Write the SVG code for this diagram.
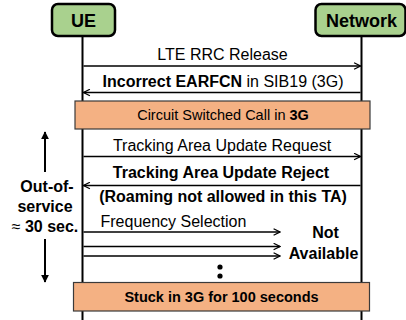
<svg xmlns="http://www.w3.org/2000/svg" width="406" height="320" viewBox="0 0 406 320">
  <style>
    text { font-family: "Liberation Sans", Arial, sans-serif; fill: #000; }
    .msg { font-size: 16px; text-anchor: middle; }
    .b { font-weight: bold; }
    .n { font-weight: normal; }
    .entity { fill: #a9d18e; stroke: #000; stroke-width: 2.5; }
    .entity-label { font-size: 18px; font-weight: bold; text-anchor: middle; }
    .lifeline { stroke: #000; stroke-width: 2; }
    .phase { fill: #f4b183; stroke: #3a3a3a; stroke-width: 1.2; }
    .phase-label { font-size: 14.5px; text-anchor: middle; }
    .arrow { stroke: #000; stroke-width: 1.5; fill: none; }
    .timer { stroke: #000; stroke-width: 2; }
  </style>
  <defs>
    <marker id="open" viewBox="0 0 10 10" refX="9" refY="5" markerWidth="8" markerHeight="8" markerUnits="userSpaceOnUse" orient="auto">
      <path d="M1,1 L9,5 L1,9" fill="none" stroke="#000" stroke-width="1.6"/>
    </marker>
    <marker id="solid" viewBox="0 0 10 10" refX="9" refY="5" markerWidth="8" markerHeight="9" markerUnits="userSpaceOnUse" orient="auto">
      <path d="M0,0 L10,5 L0,10 Z" fill="#000"/>
    </marker>
  </defs>

  <!-- lifelines -->
  <g id="lifelines">
    <line class="lifeline" x1="82.5" y1="36" x2="82.5" y2="320"/>
    <line class="lifeline" x1="361.5" y1="36" x2="361.5" y2="320"/>
  </g>

  <!-- entities -->
  <g id="ue">
    <rect class="entity" x="52" y="4" width="63" height="32" rx="6"/>
    <text class="entity-label" x="83.5" y="26.5">UE</text>
  </g>
  <g id="network">
    <rect class="entity" x="315.5" y="4" width="90" height="32" rx="6"/>
    <text class="entity-label" x="361.5" y="26.5">Network</text>
  </g>

  <!-- messages -->
  <g id="connectors">
    <line class="arrow" x1="83.5" y1="66" x2="360.5" y2="66" marker-end="url(#open)"/>
    <line class="arrow" x1="360.5" y1="92.5" x2="83.5" y2="92.5" marker-end="url(#open)"/>
    <line class="arrow" x1="83.5" y1="156.5" x2="360.5" y2="156.5" marker-end="url(#open)"/>
    <line class="arrow" x1="360.5" y1="185.5" x2="83.5" y2="185.5" marker-end="url(#open)"/>
    <line class="arrow" x1="83.5" y1="232" x2="280" y2="232" marker-end="url(#open)"/>
    <line class="arrow" x1="83.5" y1="246.5" x2="280" y2="246.5" marker-end="url(#open)"/>
    <line class="arrow" x1="83.5" y1="256" x2="280" y2="256" marker-end="url(#open)"/>
  </g>

  <g id="msg-labels">
    <text class="msg" x="222.5" y="60">LTE RRC Release</text>
    <text class="msg" x="223" y="87"><tspan class="b">Incorrect EARFCN</tspan> in SIB19 (3G)</text>
    <text class="msg" x="222" y="150.5">Tracking Area Update Request</text>
    <text class="msg b" x="221" y="178">Tracking Area Update Reject</text>
    <text class="msg b" x="223" y="202">(Roaming not allowed in this TA)</text>
    <text class="msg" x="100.5" y="227" style="text-anchor:start">Frequency Selection</text>
    <text class="msg b" x="325.5" y="238">Not</text>
    <text class="msg b" x="323.5" y="258.5">Available</text>
  </g>

  <!-- continuation dots -->
  <g id="ellipsis">
    <circle cx="220" cy="267" r="2.6"/>
    <circle cx="220" cy="276" r="2.6"/>
  </g>

  <!-- phases -->
  <g id="cs-call">
    <rect class="phase" x="75" y="101" width="295" height="28"/>
    <text class="phase-label" x="223" y="120">Circuit Switched Call in <tspan class="b">3G</tspan></text>
  </g>
  <g id="stuck">
    <rect class="phase" x="73.5" y="282.5" width="296" height="28.5"/>
    <text class="phase-label b" x="221.5" y="302">Stuck in 3G for 100 seconds</text>
  </g>

  <!-- out-of-service timer -->
  <g id="out-of-service">
    <line class="timer" x1="45" y1="172" x2="45" y2="132" marker-end="url(#solid)"/>
    <line class="timer" x1="45" y1="239" x2="45" y2="282" marker-end="url(#solid)"/>
    <text class="msg b" x="47" y="192">Out-of-</text>
    <text class="msg b" x="45" y="212">service</text>
    <text class="msg b" x="45" y="232"><tspan class="n">≈</tspan> 30 sec.</text>
  </g>
</svg>
